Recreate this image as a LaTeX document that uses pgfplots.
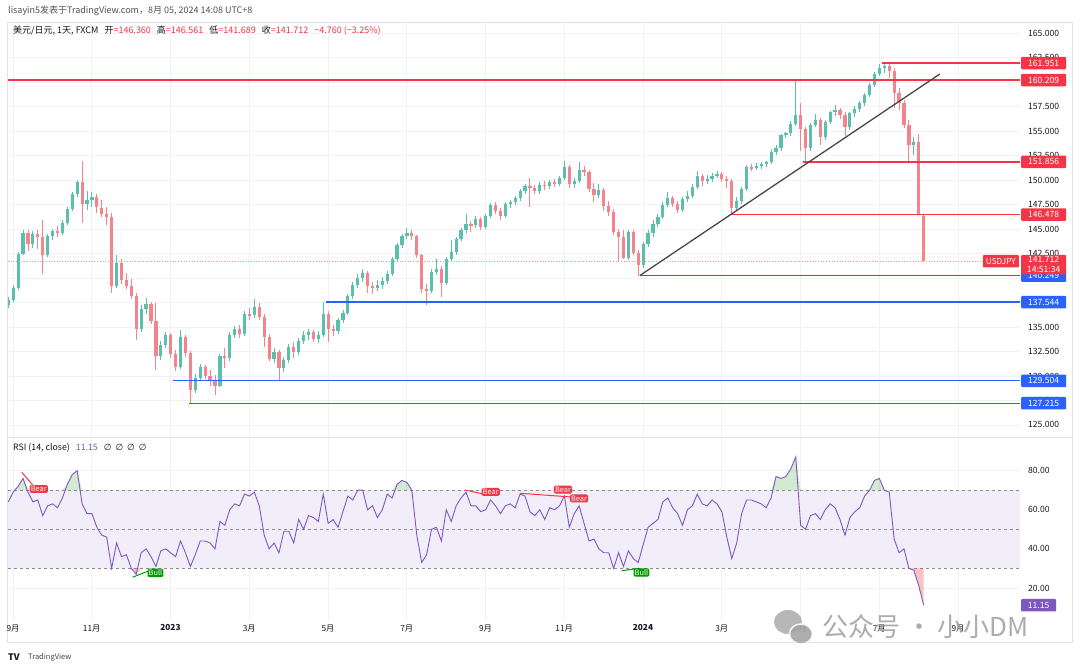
\documentclass[border=0pt]{standalone}
\usepackage{pgfplots}
\pgfplotsset{compat=1.18}
\usepackage{pgfplotstable}
\usepackage{fontspec}
\setmainfont{Noto Sans CJK SC}
\newfontfamily\dejavu{DejaVu Sans}

\definecolor{tvred}{HTML}{F23645}
\definecolor{tvblue}{HTML}{2962FF}
\definecolor{upc}{HTML}{5BBFAE}
\definecolor{dnc}{HTML}{F5838C}
\definecolor{rsic}{HTML}{7E57C2}
\definecolor{band}{HTML}{F2EEF9}
\definecolor{gridc}{HTML}{F0F2F6}
\definecolor{txt}{HTML}{131722}
\definecolor{framec}{HTML}{E0E3EB}

% USDJPY, about 8 candles a month, Sep 2022 - Aug 5 2024
\pgfplotstableread{
o h l c
137.2 138.1 136.9 137.8
137.8 139.3 137.5 139.0
139.0 142.7 138.8 142.5
142.5 144.9 142.3 144.6
144.6 144.9 142.8 143.5
143.5 144.8 143.1 144.5
144.5 144.9 143.0 144.2
144.2 145.9 140.4 142.4
142.4 144.5 142.1 144.3
144.3 145.0 143.9 144.8
144.8 145.3 144.2 144.6
144.6 145.9 144.4 145.6
145.6 147.2 145.4 147.0
147.0 148.8 146.8 148.6
148.6 150.0 148.3 149.8
149.8 151.95 145.6 147.6
147.6 148.9 146.9 148.0
148.0 148.8 147.3 148.3
148.3 148.6 146.6 147.2
147.2 148.0 146.2 146.5
146.5 147.3 145.4 146.2
146.2 146.6 138.5 139.2
139.2 142.3 139.0 141.5
141.5 141.9 139.4 139.8
139.8 140.5 138.9 139.2
139.2 139.9 137.9 138.2
138.2 138.5 133.7 134.8
134.8 137.2 134.5 136.8
136.8 138.0 136.3 137.3
137.3 137.6 135.3 135.6
135.6 137.4 130.6 132.0
132.0 133.6 131.6 133.2
133.2 134.5 132.9 134.2
134.2 134.4 131.8 132.2
132.2 132.6 130.5 130.9
130.9 134.7 130.7 134.0
134.0 134.2 131.9 132.3
132.3 132.5 127.2 128.6
128.6 130.2 128.3 129.8
129.8 131.2 129.5 130.9
130.9 131.1 129.7 130.0
130.0 130.6 129.0 129.5
129.5 130.1 128.1 129.0
129.0 132.2 128.9 132.0
132.0 132.9 130.8 131.8
131.8 134.5 131.5 134.2
134.2 135.1 133.9 134.8
134.8 135.2 133.9 134.3
134.3 136.6 134.1 136.3
136.3 136.9 135.7 136.2
136.2 137.9 135.9 137.0
137.0 137.4 135.7 136.0
136.0 136.3 133.0 134.0
134.0 134.3 131.5 131.7
131.7 132.9 131.3 132.4
132.4 132.7 129.6 130.8
130.8 131.9 130.4 131.6
131.6 133.3 131.3 133.0
133.0 133.5 131.8 132.4
132.4 133.9 132.1 133.6
133.6 134.6 133.3 134.2
134.2 134.8 133.7 134.5
134.5 134.7 133.5 133.8
133.8 134.6 133.4 134.2
134.2 137.6 134.0 136.3
136.3 136.6 133.5 134.8
134.8 135.2 134.1 134.6
134.6 135.9 134.3 135.7
135.7 136.7 135.4 136.4
136.4 138.4 136.2 138.2
138.2 139.6 137.9 139.3
139.3 140.4 139.0 140.0
140.0 140.9 139.6 140.5
140.5 140.7 138.5 139.2
139.2 139.6 138.4 139.0
139.0 139.8 138.7 139.3
139.3 140.1 138.9 139.7
139.7 140.7 139.4 140.4
140.4 142.1 140.2 141.9
141.9 143.6 141.7 143.4
143.4 144.5 143.1 144.3
144.3 145.1 144.0 144.6
144.6 144.9 143.9 144.3
144.3 144.4 142.0 142.3
142.3 142.5 138.5 138.9
138.9 139.4 137.2 138.7
138.7 140.9 138.5 140.6
140.6 141.9 140.3 140.9
140.9 141.2 138.1 139.5
139.5 142.1 139.3 141.9
141.9 143.9 141.7 142.7
142.7 144.2 142.4 144.0
144.0 145.1 143.8 144.9
144.9 146.5 144.6 145.5
145.5 145.8 144.7 145.4
145.4 146.3 145.1 146.0
146.0 146.2 144.9 145.2
145.2 146.5 145.0 146.3
146.3 147.7 146.1 147.5
147.5 147.8 146.5 146.8
146.8 147.1 145.9 146.3
146.3 147.8 146.1 147.6
147.6 148.0 147.1 147.8
147.8 148.4 147.5 148.2
148.2 149.1 147.9 148.9
148.9 149.6 148.6 149.4
149.4 150.2 147.3 149.2
149.2 149.5 148.6 148.9
148.9 149.8 148.6 149.5
149.5 149.9 149.0 149.4
149.4 150.0 149.1 149.8
149.8 150.1 149.3 149.6
149.6 150.4 149.4 150.2
150.2 151.9 150.0 151.3
151.3 151.5 149.2 149.6
149.6 150.2 149.2 149.9
149.9 151.8 149.7 151.0
151.0 151.4 150.4 150.8
150.8 151.0 148.8 149.1
149.1 149.7 147.8 148.5
148.5 149.6 148.2 149.0
149.0 149.2 146.8 147.4
147.4 147.9 146.3 146.7
146.7 147.0 144.4 144.7
144.7 145.0 141.6 144.2
144.2 144.9 141.9 142.0
142.0 144.9 141.8 144.7
144.7 144.9 142.4 142.6
142.6 142.9 140.25 141.3
141.3 143.7 141.0 143.5
143.5 144.9 143.2 144.6
144.6 145.9 144.2 145.5
145.5 146.5 145.2 146.2
146.2 147.8 146.0 147.5
147.5 148.8 147.2 148.2
148.2 148.4 147.3 147.6
147.6 147.9 146.6 146.9
146.9 148.3 146.7 148.1
148.1 148.9 147.8 148.4
148.4 149.6 148.2 149.3
149.3 150.9 149.1 150.4
150.4 150.6 149.4 149.9
149.9 150.5 149.6 150.1
150.1 150.7 149.8 150.4
150.4 150.9 150.2 150.6
150.6 150.8 149.8 150.1
150.1 150.4 149.2 149.9
149.9 150.1 146.48 147.1
147.1 148.3 146.8 147.9
147.9 149.3 147.6 149.1
149.1 151.5 148.9 151.3
151.3 151.6 150.9 151.2
151.2 151.7 151.0 151.4
151.4 151.8 151.1 151.6
151.6 151.9 151.3 151.8
151.8 153.2 151.6 152.9
152.9 153.6 152.6 153.3
153.3 154.7 153.0 154.6
154.6 154.9 154.3 154.8
154.8 156.0 154.5 155.7
155.7 160.209 155.5 156.6
156.6 157.9 153.0 155.2
155.2 155.4 151.856 153.3
153.3 155.8 153.0 155.6
155.6 156.7 155.4 156.1
156.1 156.3 153.6 154.4
154.4 156.1 154.1 155.9
155.9 157.1 155.7 156.9
156.9 157.7 156.5 157.2
157.2 157.4 156.2 156.6
156.6 156.9 154.5 155.4
155.4 157.0 155.1 156.8
156.8 157.6 156.4 157.3
157.3 158.1 157.0 157.9
157.9 158.9 157.6 158.7
158.7 159.9 158.5 159.7
159.7 161.0 159.5 160.8
160.8 161.8 160.6 161.4
161.4 161.951 160.9 161.6
161.6 161.8 160.4 161.1
161.1 161.4 157.4 158.9
158.9 159.4 157.2 157.9
157.9 158.2 155.3 155.6
155.6 156.1 151.9 153.6
153.6 154.4 152.6 153.9
153.9 154.7 146.4 146.5
146.36 146.561 141.689 141.712
}\candles

\pgfplotstableread{
r
64
69
72
76
69
64
65
57
62
63
61
66
73
78
80
63
58
58
51
47
46
30
43
36
37
30
27
38
40
36
31
39
40
38
36
44
38
31
37
44
44
43
40
54
52
60
63
62
68
67
69
62
47
40
43
38
49
49
43
55
50
57
56
54
68
53
55
51
59
67
65
70
70
60
62
56
60
68
66
73
75
74
70
47
33
37
50
51
44
60
54
62
66
69
62
62
59
60
65
62
58
62
63
61
68
67
59
57
60
55
61
60
62
67
51
58
62
53
44
45
40
38
38
30
38
31
39
35
33
42
51
53
55
64
66
61
58
52
60
62
68
63
62
65
63
59
46
35
43
58
65
65
64
63
61
66
77
76
77
81
87
52
50
57
58
55
60
63
61
55
47
56
59
61
67
70
75
76
70
69
45
38
40
30
29
21
11.15
}\rsidata

\pgfplotsset{
  pane/.style={
    scale only axis, width=1012pt,
    xmin=-0.127, xmax=25.575,
    axis line style={draw=none}, tick style={draw=none},
    xtick={0,2,...,24},
    yticklabel pos=right,
    xmajorgrids, ymajorgrids,
    grid style={gridc, line width=0.7pt},
    yticklabel style={font=\fontsize{8.6}{10}\selectfont, text=txt, anchor=west, inner sep=0pt, xshift=8pt},
  },
  candle/.style={draw=none, mark=none, forget plot, error bars/y explicit, error bars/error mark=none},
}
\tikzset{
  lvl/.style={line width=1.3pt},
  box/.style={anchor=west, xshift=1pt, fill=#1, text=white, inner sep=0pt,
    minimum width=45pt, minimum height=12.5pt, rounded corners=1pt,
    font=\fontsize{8.6}{10}\selectfont},
  tag/.style={fill=#1, text=white, inner sep=1.2pt, rounded corners=1.5pt,
    font=\fontsize{7.4}{8}\selectfont},
}

\begin{document}
\begin{tikzpicture}[x=1pt, y=1pt]
\fill[white] (0,0) rectangle (1080,669);

\node[anchor=west, inner sep=0, font=\fontsize{9}{10}\selectfont, text=txt!75] at (8,658)
  {lisayin5发表于TradingView.com，8月 05, 2024 14:08 UTC+8};
\draw[framec, line width=0.8pt] (7,27) rectangle (1072,647);
\draw[framec, line width=0.8pt] (7,232) -- (1072,232);

% price pane
\begin{axis}[pane, at={(8pt,233pt)}, anchor=south west, height=414pt,
  ymin=123.87, ymax=166.14,
  xticklabel=\empty,
  ytick={125,127.5,130,132.5,135,137.5,140,142.5,145,147.5,150,152.5,155,157.5,160,162.5,165},
  yticklabels={125.000,127.500,130.000,132.500,135.000,137.500,140.000,142.500,145.000,147.500,150.000,152.500,155.000,157.500,160.000,162.500,165.000},
]
% wicks
\addplot[candle, error bars/y dir=plus, error bars/error bar style={draw=upc, line width=0.9pt}]
  table[x expr=\coordindex/8-0.12, y expr={\thisrow{c}>=\thisrow{o} ? \thisrow{l} : nan},
  y error plus expr=\thisrow{h}-\thisrow{l}] {\candles};
\addplot[candle, error bars/y dir=plus, error bars/error bar style={draw=dnc, line width=0.9pt}]
  table[x expr=\coordindex/8-0.12, y expr={\thisrow{c}<\thisrow{o} ? \thisrow{l} : nan},
  y error plus expr=\thisrow{h}-\thisrow{l}] {\candles};
% bodies
\addplot[candle, error bars/y dir=both, error bars/error bar style={draw=upc, line width=3.2pt}]
  table[x expr=\coordindex/8-0.12, y expr={\thisrow{c}>=\thisrow{o} ? (\thisrow{o}+\thisrow{c})/2 : nan},
  y error expr={max(abs(\thisrow{c}-\thisrow{o})/2,0.05)}] {\candles};
\addplot[candle, error bars/y dir=both, error bars/error bar style={draw=dnc, line width=3.2pt}]
  table[x expr=\coordindex/8-0.12, y expr={\thisrow{c}<\thisrow{o} ? (\thisrow{o}+\thisrow{c})/2 : nan},
  y error expr={max(abs(\thisrow{c}-\thisrow{o})/2,0.05)}] {\candles};

\draw[tvred!55, dotted, line width=0.7pt] (axis cs:-0.127,141.712) -- (axis cs:25.575,141.712);
\draw[tvred, lvl] (axis cs:22.07,161.951) -- (axis cs:25.575,161.951);
\draw[tvred, lvl] (axis cs:-0.127,160.209) -- (axis cs:25.575,160.209);
\draw[tvred, lvl] (axis cs:20.06,151.856) -- (axis cs:25.575,151.856);
\draw[tvred, lvl] (axis cs:18.26,146.478) -- (axis cs:25.575,146.478);
\draw[tvblue, lvl] (axis cs:15.92,140.249) -- (axis cs:25.575,140.249);
\draw[tvblue, lvl] (axis cs:7.95,137.544) -- (axis cs:25.575,137.544);
\draw[tvblue, lvl] (axis cs:4.06,129.504) -- (axis cs:25.575,129.504);
\draw[tvblue, lvl] (axis cs:4.47,127.215) -- (axis cs:25.575,127.215);
\draw[black!72, line width=1.3pt] (axis cs:15.92,140.249) -- (axis cs:23.54,160.83);

\coordinate (a1) at (axis cs:25.575,161.951);
\coordinate (a2) at (axis cs:25.575,160.209);
\coordinate (a3) at (axis cs:25.575,151.856);
\coordinate (a4) at (axis cs:25.575,146.478);
\coordinate (a5) at (axis cs:25.575,141.712);
\coordinate (a6) at (axis cs:25.575,140.249);
\coordinate (a7) at (axis cs:25.575,137.544);
\coordinate (a8) at (axis cs:25.575,129.504);
\coordinate (a9) at (axis cs:25.575,127.215);
\end{axis}

\node[box=tvred] at (a1) {161.951};
\node[box=tvred] at (a2) {160.209};
\node[box=tvred] at (a3) {151.856};
\node[box=tvred] at (a4) {146.478};
\node[box=tvblue] at (a6) {140.249};
\node[box=tvblue] at (a7) {137.544};
\node[box=tvblue] at (a8) {129.504};
\node[box=tvblue] at (a9) {127.215};
\node[anchor=north west, fill=tvred, text=white, inner xsep=0pt, inner ysep=1.5pt,
  minimum width=45pt, rounded corners=1pt, align=center,
  font=\fontsize{8.6}{10}\selectfont] at ([xshift=1pt, yshift=6.5pt]a5) {141.712\\14:51:34};
\node[anchor=east, fill=tvred, text=white, inner xsep=3pt, inner ysep=0pt,
  minimum height=12.5pt, rounded corners=1pt, font=\fontsize{8.2}{10}\selectfont]
  at ([xshift=-1pt]a5) {USDJPY};

\node[anchor=west, inner sep=0, font=\fontsize{9}{10}\selectfont, text=txt] at (13,638)
  {美元/日元, 1天, FXCM\hspace{6pt}开\textcolor{tvred}{=146.360}\hspace{6pt}高\textcolor{tvred}{=146.561}\hspace{6pt}低\textcolor{tvred}{=141.689}\hspace{6pt}收\textcolor{tvred}{=141.712}\hspace{6pt}\textcolor{tvred}{−4.760 (−3.25\%)}};

% RSI pane
\begin{axis}[pane, at={(8pt,49pt)}, anchor=south west, height=182pt,
  ymin=3.6, ymax=96.7,
  ytick={20,40,60,80}, yticklabels={20.00,40.00,60.00,80.00},
  xticklabels={9月,11月,\textbf{2023},3月,5月,7月,9月,11月,\textbf{2024},3月,5月,7月,9月},
  xticklabel style={font=\fontsize{8.3}{10}\selectfont, text=txt, yshift=-1pt},
]
\fill[band] (axis cs:-0.127,30) rectangle (axis cs:25.575,70);
\draw[black!45, dash pattern=on 3pt off 3pt, line width=0.8pt] (axis cs:-0.127,70) -- (axis cs:25.575,70);
\draw[black!45, dash pattern=on 3pt off 3pt, line width=0.8pt] (axis cs:-0.127,50) -- (axis cs:25.575,50);
\draw[black!45, dash pattern=on 3pt off 3pt, line width=0.8pt] (axis cs:-0.127,30) -- (axis cs:25.575,30);
\addplot[draw=none, fill=green!55!black, fill opacity=0.18]
  table[x expr=\coordindex/8-0.12, y index=0, y expr={max(\thisrow{r},70)}] {\rsidata}
  -- (axis cs:23.13,70) -- (axis cs:-0.12,70) -- cycle;
\addplot[draw=none, fill=tvred, fill opacity=0.3]
  table[x expr=\coordindex/8-0.12, y index=0, y expr={min(\thisrow{r},30)}] {\rsidata}
  -- (axis cs:23.13,30) -- (axis cs:-0.12,30) -- cycle;
\addplot[rsic, line width=0.9pt, mark=none] table[x expr=\coordindex/8-0.12, y=r] {\rsidata};

\draw[tvred, line width=1pt] (axis cs:0.221,79.2) -- (axis cs:0.55,71.5);
\draw[tvred, line width=1pt] (axis cs:11.479,70.1) -- (axis cs:12.0,67.8);
\draw[tvred, line width=1pt] (axis cs:12.876,68.4) -- (axis cs:14.2,66.5);
\draw[green!60!black, line width=1pt] (axis cs:3.04,25.5) -- (axis cs:3.55,29.5);
\draw[green!60!black, line width=1pt] (axis cs:15.459,28.8) -- (axis cs:15.9,30.0);
\node[tag=tvred] at (axis cs:0.655,70.6) {Bear};
\node[tag=tvred] at (axis cs:12.132,69.1) {Bear};
\node[tag=tvred] at (axis cs:13.968,70.3) {Bear};
\node[tag=tvred] at (axis cs:14.375,65.8) {Bear};
\node[tag=green!60!black] at (axis cs:3.619,27.7) {Bull};
\node[tag=green!60!black] at (axis cs:15.962,27.9) {Bull};
\coordinate (b1) at (axis cs:25.575,11.15);
\end{axis}

\node[box=rsic, minimum width=35pt] at (b1) {11.15};
\node[anchor=west, inner sep=0, font=\fontsize{8.8}{10}\selectfont, text=txt] at (13,221)
  {RSI (14, close)\hspace{6pt}\textcolor{rsic}{11.15}\hspace{6pt}{\dejavu ∅\hspace{4pt}∅\hspace{4pt}∅\hspace{4pt}∅}};

% watermark and footer
\fill[black!35, opacity=0.8] (788,47) ellipse (14 and 12);
\fill[black!35, draw=white, line width=1.5pt, opacity=0.9] (801,35) ellipse (11.5 and 10);
\node[anchor=west, inner sep=0, font=\fontsize{26}{28}\selectfont, text=black!38, opacity=0.85]
  at (822,42) {公众号 · 小小DM};
\node[anchor=west, inner sep=0, font=\bfseries\fontsize{9}{10}\selectfont, text=txt] at (8,12) {TV};
\node[anchor=west, inner sep=0, font=\fontsize{7.5}{9}\selectfont, text=txt!80] at (28,12) {TradingView};

\pgfresetboundingbox
\path[use as bounding box] (0,0) rectangle (1080,669);
\end{tikzpicture}
\end{document}
